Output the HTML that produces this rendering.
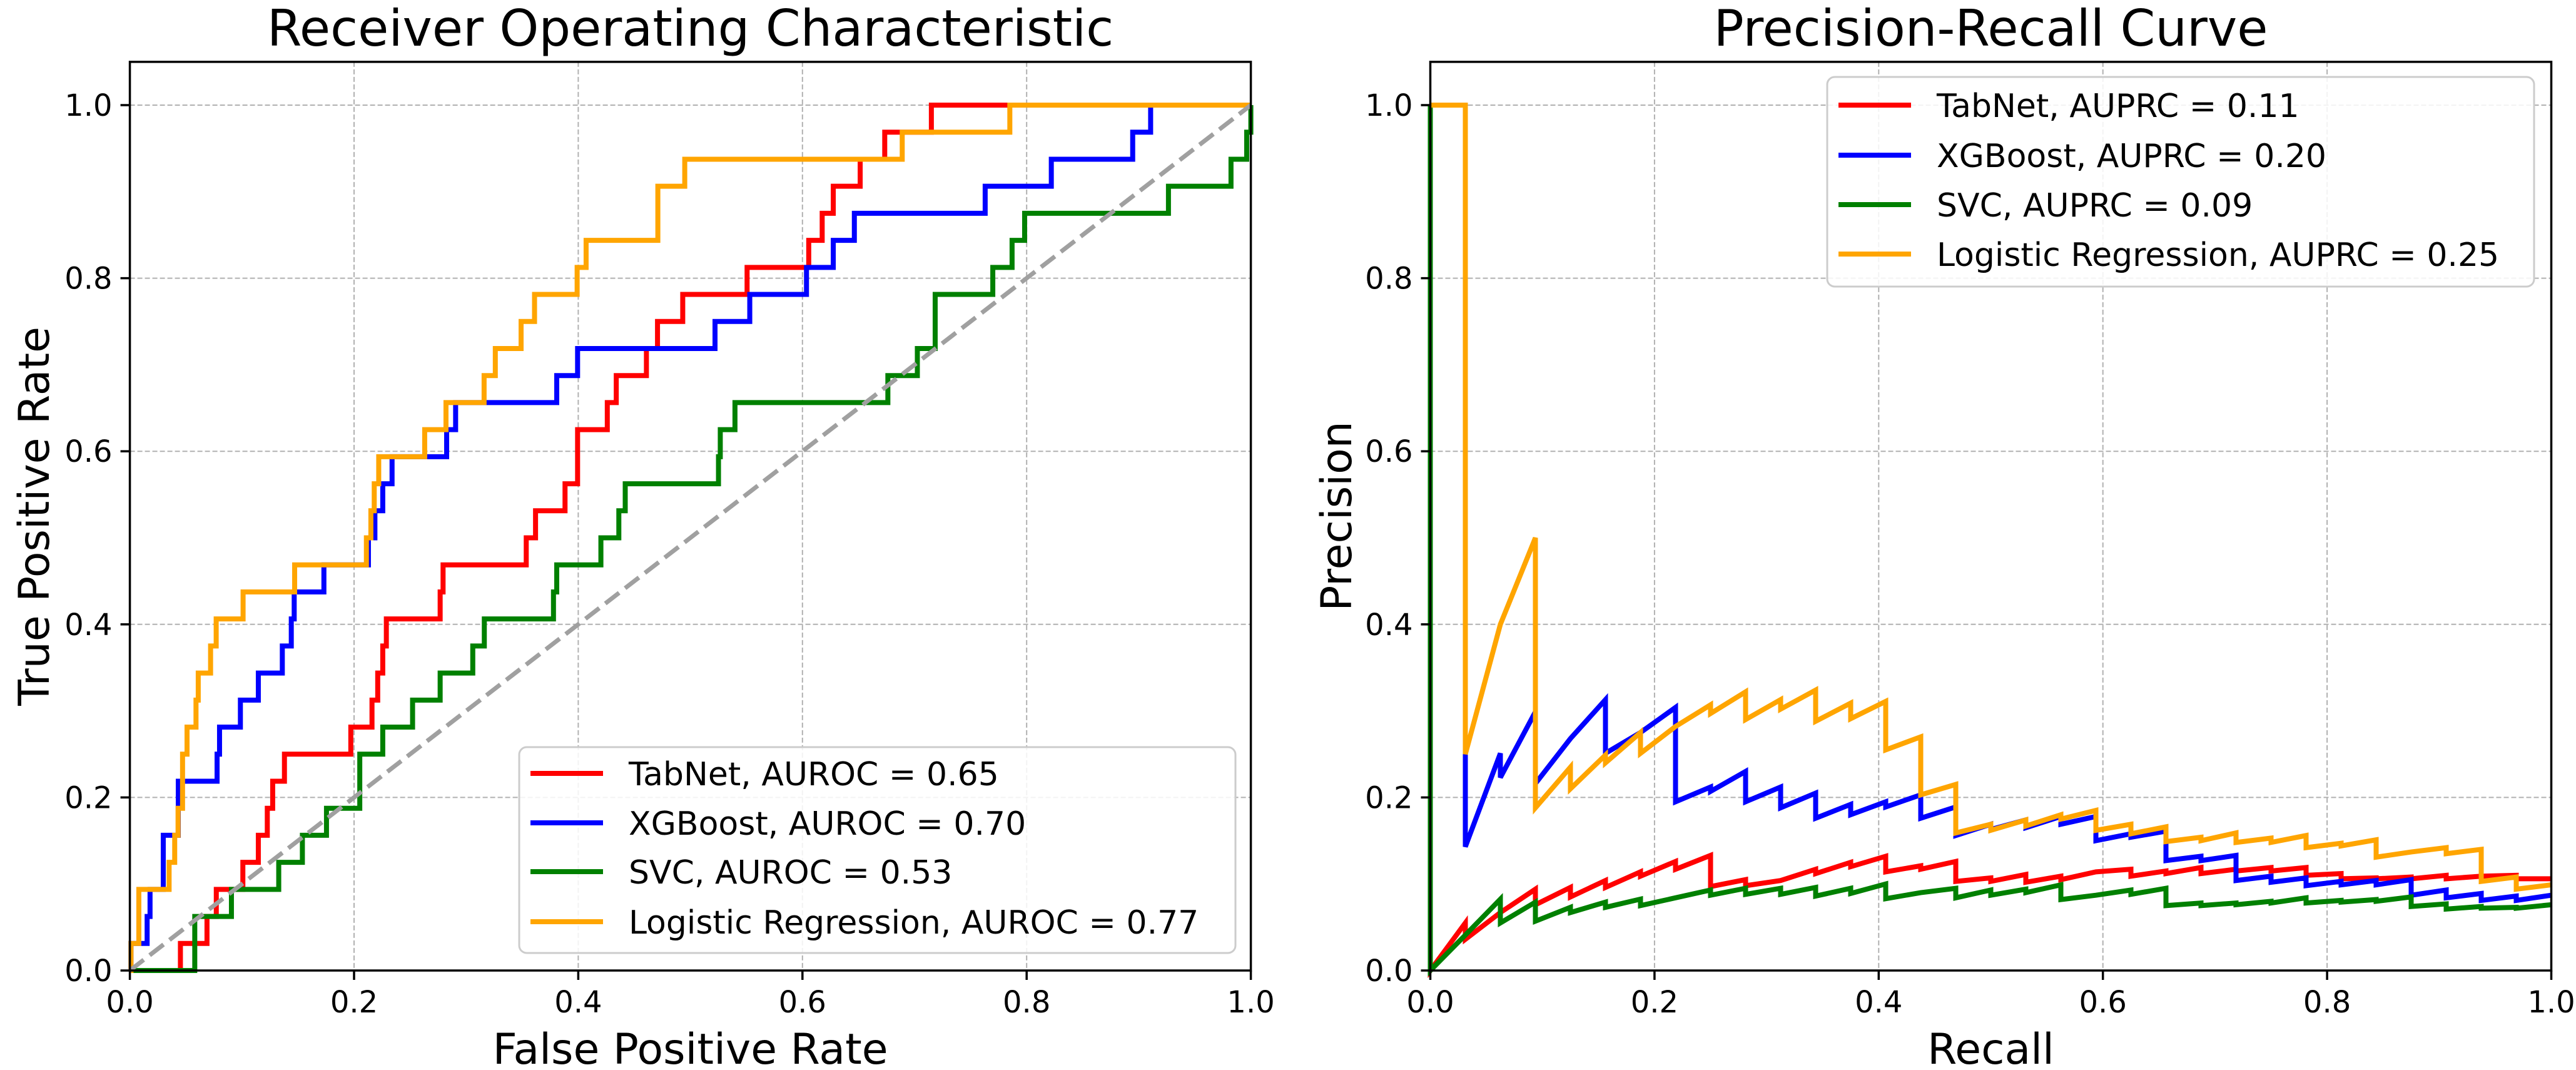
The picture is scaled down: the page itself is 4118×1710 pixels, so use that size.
<!DOCTYPE html>
<html><head><meta charset="utf-8"><style>
html,body{margin:0;padding:0;background:#fff;}
svg{display:block;font-family:"DejaVu Sans","Liberation Sans",sans-serif;}
</style></head><body>
<svg id="fig" width="4118" height="1710" viewBox="0 0 4118 1710" xmlns="http://www.w3.org/2000/svg">
<rect x="0" y="0" width="4118" height="1710" fill="#fff"/>
<g id="roc"></g>
<g id="pr"></g>
</svg>
<script>
// ---------- data ----------
const tickVals = [0, 0.2, 0.4, 0.6, 0.8, 1.0];
const tickLabels = ["0.0", "0.2", "0.4", "0.6", "0.8", "1.0"];
const seriesNames = ["TabNet", "XGBoost", "SVC", "Logistic Regression"];
const seriesColors = ["#ff0000", "#0000ff", "#008000", "#ffa500"];
const aurocLabels = ["0.65", "0.70", "0.53", "0.77"];
const auprcLabels = ["0.11", "0.20", "0.09", "0.25"];
const nPos = 32;
// ROC: FPR at which TPR jumps to k/32
const tabFpr = [0.0451,0.0688,0.0771,0.1008,0.1146,0.1226,0.1274,0.1379,0.1971,0.216,0.2211,0.2256,0.2288,0.2768,0.2794,0.3536,0.3619,0.3882,0.3994,0.4259,0.4339,0.4608,0.4707,0.4932,0.5506,0.6056,0.6176,0.6275,0.6515,0.6734,0.715];
const tabK   = [1,2,3,4,5,6,7,8,9,10,11,12,13,14,15,16,17,18,20,21,22,23,24,25,26,27,28,29,30,31,32];
const xgbFpr = [0.001,0.0154,0.018,0.0298,0.0432,0.0778,0.08,0.0986,0.1146,0.136,0.144,0.1466,0.1731,0.2128,0.2186,0.2256,0.2339,0.2826,0.2906,0.3808,0.3994,0.522,0.553,0.6036,0.6275,0.6463,0.763,0.822,0.8946,0.9106];
const xgbK   = [1,2,3,5,7,8,9,10,11,12,13,14,15,16,17,18,19,20,21,22,23,24,25,26,27,28,29,30,31,32];
const svcFpr = [0.0579,0.0906,0.1328,0.1539,0.1754,0.2051,0.2256,0.2522,0.2768,0.3059,0.3162,0.3779,0.3808,0.4202,0.4362,0.4419,0.5251,0.5267,0.5398,0.6762,0.7025,0.7184,0.7698,0.787,0.7982,0.9265,0.9823,0.9963,1.0];
const svcK   = [2,3,4,5,6,8,9,10,11,12,13,14,15,16,17,18,19,20,21,22,23,25,26,27,28,29,30,31,32];
const lrFpr  = [0.001,0.008,0.035,0.040,0.043,0.047,0.051,0.059,0.061,0.072,0.077,0.101,0.147,0.211,0.215,0.218,0.222,0.263,0.282,0.316,0.326,0.349,0.361,0.399,0.407,0.471,0.495,0.689,0.785];
const lrK    = [1,3,4,5,6,8,9,10,11,12,13,14,15,16,17,18,19,20,21,22,23,24,25,26,27,29,30,31,32];
// PR: precision at recall k/32 (peak, then value after drop), k = 1..32
const tabPeak = [0.055,0.067,0.094,0.096,0.104,0.114,0.126,0.133,0.105,0.104,0.117,0.125,0.132,0.121,0.126,0.107,0.111,0.109,0.114,0.117,0.115,0.119,0.117,0.119,0.119,0.112,0.107,0.108,0.110,0.109,0.110,0.106];
const tabDrop = [0.036,0.067,0.076,0.085,0.096,0.109,0.117,0.097,0.098,0.104,0.112,0.120,0.114,0.117,0.103,0.103,0.102,0.105,0.114,0.109,0.112,0.112,0.115,0.115,0.110,0.106,0.106,0.106,0.106,0.109,0.106,0.106];
const xgbPeak = [1.0,0.251,0.299,0.268,0.313,0.275,0.304,0.212,0.230,0.212,0.205,0.192,0.195,0.203,0.189,0.169,0.174,0.178,0.178,0.158,0.161,0.132,0.133,0.109,0.107,0.103,0.104,0.105,0.093,0.089,0.086,0.087];
const xgbDrop = [0.143,0.223,0.216,0.268,0.251,0.275,0.195,0.207,0.195,0.188,0.176,0.180,0.189,0.176,0.156,0.163,0.165,0.169,0.150,0.154,0.127,0.127,0.104,0.102,0.098,0.099,0.099,0.087,0.084,0.081,0.081,0.087];
const svcPeak = [0.041,0.0825,0.079,0.073,0.079,0.0825,0.084,0.093,0.095,0.095,0.096,0.095,0.100,0.090,0.095,0.093,0.094,0.099,0.087,0.093,0.095,0.078,0.078,0.080,0.084,0.081,0.082,0.085,0.077,0.074,0.073,0.076];
const svcDrop = [0.041,0.055,0.057,0.067,0.073,0.075,0.084,0.087,0.088,0.088,0.086,0.089,0.083,0.090,0.084,0.087,0.090,0.082,0.087,0.088,0.075,0.075,0.076,0.078,0.078,0.079,0.080,0.074,0.071,0.072,0.072,0.076];
const lrPeak  = [1.0,0.40,0.50,0.235,0.249,0.275,0.282,0.307,0.322,0.313,0.324,0.309,0.311,0.270,0.215,0.169,0.174,0.180,0.185,0.169,0.166,0.154,0.159,0.153,0.156,0.147,0.151,0.137,0.142,0.140,0.108,0.099];
const lrDrop  = [0.25,0.40,0.188,0.21,0.240,0.251,0.282,0.297,0.29,0.302,0.288,0.291,0.255,0.203,0.159,0.162,0.167,0.175,0.162,0.158,0.149,0.150,0.148,0.148,0.142,0.144,0.131,0.137,0.135,0.103,0.094,0.099];
const prHeadZero = [true, false, true, false];

// ---------- drawing ----------
const NS = "http://www.w3.org/2000/svg";
function mk(tag, attrs, parent) {
  const e = document.createElementNS(NS, tag);
  for (const k in attrs) e.setAttribute(k, attrs[k]);
  parent.appendChild(e);
  return e;
}
const Y0 = 1551, Y1 = 168, W = 1792;
function makeAxes(g, x0) {
  const sx = v => x0 + v * W;
  const sy = v => Y0 - v * (Y0 - Y1);
  const top = sy(1.05);
  tickVals.forEach((v, i) => {
    const gx = mk("line", {x1: sx(v), y1: top, x2: sx(v), y2: Y0, stroke: "#b0b0b0", "stroke-width": 2, "stroke-dasharray": "8,4"}, g);
    
    
    const gy = mk("line", {x1: x0, y1: sy(v), x2: x0 + W, y2: sy(v), stroke: "#b0b0b0", "stroke-width": 2, "stroke-dasharray": "8,4"}, g);
    
    
  });
  return {sx, sy, top};
}
function finishAxes(g, x0, A, title, xlabel, ylabel, ylabX) {
  const {sx, sy, top} = A;
  const fr = mk("rect", {x: x0, y: top, width: W, height: Y0 - top, fill: "none", stroke: "#000", "stroke-width": 3.5}, g);
  
  
  tickVals.forEach((v, i) => {
    const tx = mk("line", {x1: sx(v), y1: Y0, x2: sx(v), y2: Y0 + 15, stroke: "#000", "stroke-width": 3.5}, g);
    
    
    const lx = mk("text", {x: sx(v), y: 1618, "font-size": 48, "text-anchor": "middle", fill: "#000"}, g);
    
    
    lx.textContent = tickLabels[i];
    const ty = mk("line", {x1: x0 - 15, y1: sy(v), x2: x0, y2: sy(v), stroke: "#000", "stroke-width": 3.5}, g);
    
    
    const ly = mk("text", {x: x0 - 28, y: sy(v) + 17, "font-size": 48, "text-anchor": "end", fill: "#000"}, g);
    
    
    ly.textContent = tickLabels[i];
  });
  const t = mk("text", {x: x0 + W / 2, y: 73, "font-size": 80, "text-anchor": "middle", fill: "#000"}, g);
  
  
  t.textContent = title;
  const xl = mk("text", {x: x0 + W / 2, y: 1700, "font-size": 68, "text-anchor": "middle", fill: "#000"}, g);
  
  
  xl.textContent = xlabel;
  const cy = (Y0 + top) / 2;
  const yl = mk("text", {x: ylabX, y: cy, "font-size": 68, "text-anchor": "middle", fill: "#000", transform: `rotate(-90 ${ylabX} ${cy})`}, g);
  
  
  yl.textContent = ylabel;
}
function legend(g, bx, by, bw, bh, rows, labels, metric) {
  const lg = mk("g", {}, g);
  
  
  mk("rect", {x: bx, y: by, width: bw, height: bh, rx: 12, fill: "#fff", "fill-opacity": 0.85, stroke: "#cccccc", "stroke-width": 3}, lg);
  seriesNames.forEach((n, i) => {
    const e = mk("g", {}, lg);
    
    
    mk("line", {x1: bx + 18, y1: rows[i], x2: bx + 134, y2: rows[i], stroke: seriesColors[i], "stroke-width": 8}, e);
    const tx = mk("text", {x: bx + 175, y: rows[i] + 19, "font-size": 52, fill: "#000"}, e);
    tx.textContent = n + ", " + metric + " = " + labels[i];
  });
}
// ROC
(function () {
  const g = document.getElementById("roc");
  const x0 = 207.6;
  const A = makeAxes(g, x0);
  const fprs = [tabFpr, xgbFpr, svcFpr, lrFpr];
  const ks = [tabK, xgbK, svcK, lrK];
  const names = ["roc-curve-tabnet", "roc-curve-xgboost", "roc-curve-svc", "roc-curve-logreg"];
  fprs.forEach((f, s) => {
    let d = `M${A.sx(0)},${A.sy(0)}`;
    f.forEach((v, i) => { d += ` H${A.sx(v)} V${A.sy(ks[s][i] / nPos)}`; });
    d += ` H${A.sx(1)}`;
    const p = mk("path", {d, fill: "none", stroke: seriesColors[s], "stroke-width": 8, "stroke-linejoin": "miter"}, g);
    
    
  });
  const diag = mk("line", {x1: A.sx(0), y1: A.sy(0), x2: A.sx(1), y2: A.sy(1), stroke: "#a0a0a0", "stroke-width": 7, "stroke-dasharray": "28,12"}, g);
  
  
  finishAxes(g, x0, A, "Receiver Operating Characteristic", "False Positive Rate", "True Positive Rate", 78);
  legend(g, 830, 1194, 1145, 329, [1236, 1315, 1393, 1473], aurocLabels, "AUROC");
})();
// PR
(function () {
  const g = document.getElementById("pr");
  const x0 = 2286.5;
  const A = makeAxes(g, x0);
  const peaks = [tabPeak, xgbPeak, svcPeak, lrPeak];
  const drops = [tabDrop, xgbDrop, svcDrop, lrDrop];
  const names = ["pr-curve-tabnet", "pr-curve-xgboost", "pr-curve-svc", "pr-curve-logreg"];
  peaks.forEach((pk, s) => {
    let d = `M${A.sx(0)},${A.sy(1)}`;
    if (prHeadZero[s]) d += ` L${A.sx(0)},${A.sy(0)}`;
    pk.forEach((v, i) => {
      const r = (i + 1) / nPos;
      d += ` L${A.sx(r)},${A.sy(v)} L${A.sx(r)},${A.sy(drops[s][i])}`;
    });
    const p = mk("path", {d, fill: "none", stroke: seriesColors[s], "stroke-width": 8, "stroke-linejoin": "miter"}, g);
    
    
  });
  finishAxes(g, x0, A, "Precision-Recall Curve", "Recall", "Precision", 2160);
  legend(g, 2921, 123, 1130, 335, [168, 248, 327, 406], auprcLabels, "AUPRC");
})();
</script>
</body></html>
